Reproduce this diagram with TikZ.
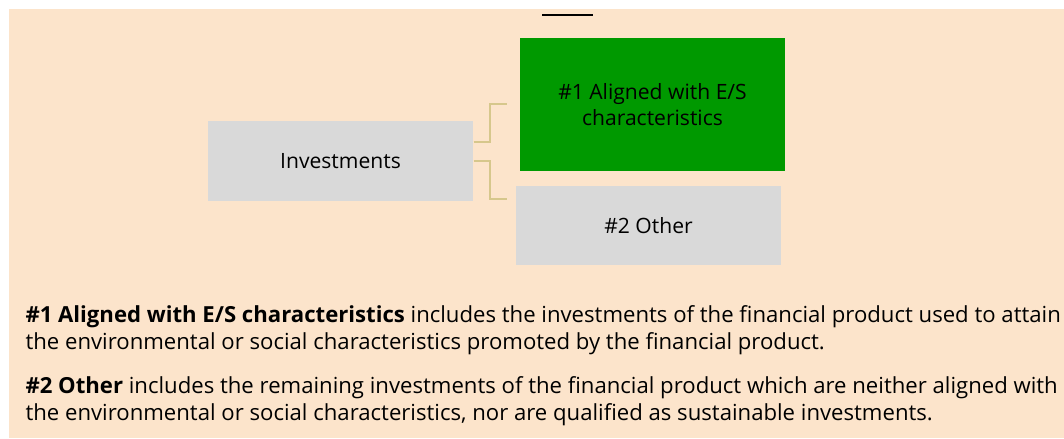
\documentclass[tikz,border=0pt]{standalone}
\usepackage{fontspec}
\setmainfont{Open Sans}
\usetikzlibrary{calc, positioning}

\definecolor{peach}{HTML}{FCE4CB}
\definecolor{boxgray}{HTML}{D9D9D9}
\definecolor{esgreen}{HTML}{009900}
\definecolor{linktan}{HTML}{D6C78C}

\begin{document}
\begin{tikzpicture}[x=0.02cm, y=-0.02cm, semithick]
            \tikzset{
                box/.style={fill=boxgray, minimum width=5.3cm, minimum height=1.6cm, inner sep=0pt, align=center, font=\fontsize{12}{14.8}\selectfont},
                link/.style={draw=linktan, line width=1.1pt},
                note/.style={anchor=north west, align=left, inner sep=0pt, font=\fontsize{12.6}{15.4}\selectfont}
            };
            \useasboundingbox (0, 0) rectangle (1064, 439);
            \fill[peach] (9, 9) rectangle (1064, 438);
            \draw[line width=1.2pt] (542, 15) -- (593, 15);
            \node[box] (inv) at (340.5, 161) {Investments};
            \node[box, fill=esgreen, minimum height=2.66cm] (aligned) at (652.5, 104.5) {\#1 Aligned with E/S\\characteristics};
            \node[box] (other) at (648.5, 225.5) {\#2 Other};
            \coordinate (j1) at ($(aligned.west)+(-13, -0.5)$);
            \coordinate (j2) at ($(other.west)+(-9, -26.5)$);
            \draw[link] ($(inv.east)+(0, -19)$) -| ($(inv.east)!0.5!(j1)+(0, -19)$) |- (j1);
            \draw[link] (inv.east) -| ($(inv.east)!0.5!(j2)$) |- (j2);
            \node[note] (note1) at (25, 305) {\textbf{\#1 Aligned with E/S characteristics} includes the investments of the financial product used to attain\\the environmental or social characteristics promoted by the financial product.};
            \node[note] (note2) at (25, 376) {\textbf{\#2 Other} includes the remaining investments of the financial product which are neither aligned with\\the environmental or social characteristics, nor are qualified as sustainable investments.};
        \end{tikzpicture}
\end{document}
